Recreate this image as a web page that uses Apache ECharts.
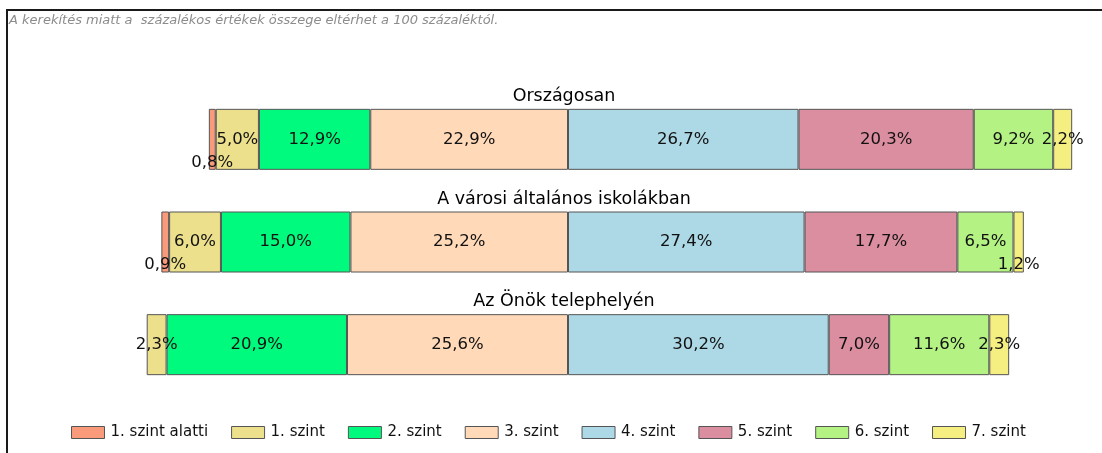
<!DOCTYPE html>
<html>
<head>
<meta charset="utf-8">
<script src="https://cdn.jsdelivr.net/npm/echarts@6/dist/echarts.min.js"></script>
<style>
  html, body { margin: 0; padding: 0; background: #fff; }
  #chart { width: 1102px; height: 453px; }
  /* keret bal és felső oldala */
  .frame {
    position: absolute; left: 6px; top: 9px; width: 1096px; height: 444px;
    border-left: 2px solid #1a1a1a; border-top: 2px solid #1a1a1a;
    pointer-events: none;
  }
</style>
</head>
<body>
<div id="chart"></div>
<div class="frame"></div>
<script>
const groups = ['Országosan', 'A városi általános iskolákban', 'Az Önök telephelyén']
const levels = ['1. szint alatti', '1. szint', '2. szint', '3. szint', '4. szint', '5. szint', '6. szint', '7. szint']

// százalékok csoportonként (országos, városi, telephely)
const below1 = [0.8, 0.9, null]
const level1 = [5.0, 6.0, 2.3]
const level2 = [12.9, 15.0, 20.9]
const level3 = [22.9, 25.2, 25.6]
const level4 = [26.7, 27.4, 30.2]
const level5 = [20.3, 17.7, 7.0]
const level6 = [9.2, 6.5, 11.6]
const level7 = [2.2, 1.2, 2.3]

const colors = ['#F99A7A', '#ECE08C', '#00FA7E', '#FFD9B8', '#ADD8E6', '#DB8EA0', '#B4F284', '#F5EE80']

const FONT = 'DejaVu Sans'

const fmt = v => Math.abs(v).toFixed(1).replace('.', ',') + '%'

// kis értékek címkéje a sáv alján
const smallLow = { '0-0': true, '0-1': true, '7-1': true }

function mkSeries(idx, vals, sign) {
  return {
    name: levels[idx],
    type: 'bar',
    stack: 'total',
    barWidth: 61,
    data: vals.map((v, i) => {
      if (v == null) return null
      const item = { value: sign * v }
      if (smallLow[idx + '-' + i]) item.label = { offset: [0, 23] }
      return item
    }),
    itemStyle: { color: colors[idx], borderColor: '#555', borderWidth: 1 },
    label: {
      show: true,
      position: 'inside',
      color: '#111',
      fontFamily: FONT,
      fontSize: 16.5,
      formatter: p => fmt(p.value),
    },
  }
}

const chart = echarts.init(document.getElementById('chart'))
chart.setOption({
  animation: false,
  title: {
    text: 'A kerekítés miatt a  százalékos értékek összege eltérhet a 100 százaléktól.',
    left: 9,
    top: 14,
    padding: 0,
    textStyle: { fontFamily: FONT, fontSize: 13, fontStyle: 'italic', fontWeight: 'normal', color: '#8c8c8c' },
  },
  legend: {
    data: levels,
    left: 71,
    top: 425,
    padding: 0,
    itemWidth: 33,
    itemHeight: 12,
    itemGap: 23,
    icon: 'rect',
    itemStyle: { borderColor: '#555', borderWidth: 1 },
    textStyle: { fontFamily: FONT, fontSize: 15, color: '#111', padding: [0, 0, 0, 1] },
  },
  grid: { left: 50, width: 1036, top: 88, height: 308 },
  xAxis: { type: 'value', min: -60, max: 60, show: false },
  yAxis: { type: 'category', data: groups, inverse: true, show: false },
  series: [
    mkSeries(3, level3, -1),
    mkSeries(2, level2, -1),
    mkSeries(1, level1, -1),
    mkSeries(0, below1, -1),
    mkSeries(4, level4, 1),
    mkSeries(5, level5, 1),
    mkSeries(6, level6, 1),
    mkSeries(7, level7, 1),
    {
      // csoportcímek a sávok fölött
      type: 'scatter',
      symbolSize: 0,
      silent: true,
      itemStyle: { opacity: 1 },
      data: groups.map(g => [0, g]),
      label: {
        show: true,
        position: 'inside',
        offset: [-4, -43],
        formatter: p => p.value[1],
        fontFamily: FONT,
        fontSize: 17.5,
        color: '#000',
      },
    },
  ],
})
</script>
</body>
</html>
